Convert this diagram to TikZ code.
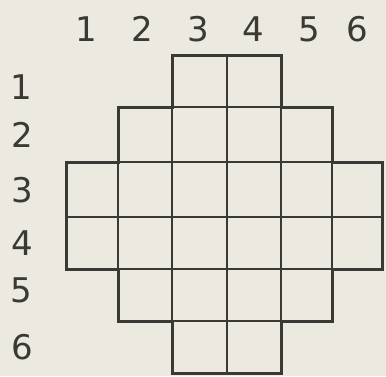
\documentclass[tikz,border=0pt]{standalone}
\usepackage{fontspec}
\setmainfont{DejaVu Sans}
\definecolor{paper}{HTML}{ECE9E0}
\definecolor{ink}{HTML}{3A3936}
\begin{document}
\begin{tikzpicture}[x=1pt,y=-1pt,
  thin grid/.style={draw=ink,line width=1.3pt},
  outline/.style={draw=ink,line width=3pt,line join=miter},
  lbl/.style={text=ink,font=\fontsize{34}{34}\selectfont,inner sep=0pt}]
\fill[paper] (0,0) rectangle (386,376);
\useasboundingbox (0,0) rectangle (386,376);
% grid line positions
\def\xa{66}\def\xb{118}\def\xc{172}\def\xd{227}\def\xe{281}\def\xf{332}\def\xg{382}
\def\ya{55}\def\yb{107}\def\yc{162}\def\yd{217}\def\ye{269}\def\yf{321}\def\yg{373}
% inner lines
\draw[thin grid] (\xd,\ya) -- (\xd,\yg);
\draw[thin grid] (\xc,\yb) -- (\xc,\yf);
\draw[thin grid] (\xe,\yb) -- (\xe,\yf);
\draw[thin grid] (\xb,\yc) -- (\xb,\ye);
\draw[thin grid] (\xf,\yc) -- (\xf,\ye);
\draw[thin grid] (\xc,\yb) -- (\xe,\yb);
\draw[thin grid] (\xb,\yc) -- (\xf,\yc);
\draw[thin grid] (\xa,\yd) -- (\xg,\yd);
\draw[thin grid] (\xb,\ye) -- (\xf,\ye);
\draw[thin grid] (\xc,\yf) -- (\xe,\yf);
% outline
\draw[outline] (\xc,\ya) -- (\xe,\ya) -- (\xe,\yb) -- (\xf,\yb) -- (\xf,\yc) -- (\xg,\yc)
  -- (\xg,\ye) -- (\xf,\ye) -- (\xf,\yf) -- (\xe,\yf) -- (\xe,\yg) -- (\xc,\yg)
  -- (\xc,\yf) -- (\xb,\yf) -- (\xb,\ye) -- (\xa,\ye) -- (\xa,\yc) -- (\xb,\yc)
  -- (\xb,\yb) -- (\xc,\yb) -- cycle;
% column labels
\node[lbl] (c1) at (86,29) {1};
\node[lbl] (c2) at (142,29) {2};
\node[lbl] (c3) at (198,29) {3};
\node[lbl] (c4) at (253,29) {4};
\node[lbl] (c5) at (309,29) {5};
\node[lbl] (c6) at (357,29) {6};
% row labels
\node[lbl] (r1) at (21,87) {1};
\node[lbl] (r2) at (22,135) {2};
\node[lbl] (r3) at (22,190) {3};
\node[lbl] (r4) at (22,243) {4};
\node[lbl] (r5) at (21,290) {5};
\node[lbl] (r6) at (22,347) {6};
\end{tikzpicture}
\end{document}
